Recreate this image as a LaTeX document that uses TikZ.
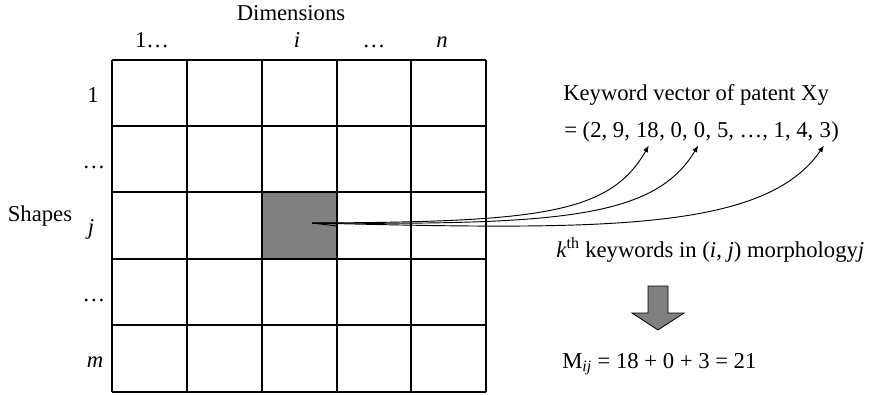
\documentclass[tikz,border=0pt]{standalone}
\usepackage{fontspec}
\setmainfont{Liberation Serif}
\usetikzlibrary{arrows.meta,positioning,calc}

\begin{document}
\begin{tikzpicture}[
  x=0.75pt,y=-0.75pt,
  font=\fontsize{17}{20}\selectfont,
  grid/.style={line width=1pt},
  lbl/.style={inner sep=0pt,anchor=base},
  txt/.style={inner sep=0pt,anchor=base west},
  hit/.style={draw,line width=0.6pt,fill=black!50},
  link/.style={-{Latex[length=5pt,width=4pt]},line width=0.7pt}]

\useasboundingbox (0,0) rectangle (870,394);

% matrix of shapes x dimensions
\node[hit,minimum width=56pt,minimum height=50pt,inner sep=0pt] (cell) at (299.5,226) {};
\foreach \x in {112,187,262,337,411,486} \draw[grid] (\x,60) -- (\x,392);
\foreach \y in {60,126,192,259,325,392} \draw[grid] (112,\y) -- (486,\y);

\node[lbl] (dim) at (291,20) {Dimensions};
\node[lbl] (c1) at (152,47) {1…};
\node[lbl] (ci) at (297,47) {\textit{i}};
\node[lbl] (cd) at (374,47) {…};
\node[lbl] (cn) at (442,47) {\textit{n}};

\node[lbl] (shp) at (40,221) {Shapes};
\node[lbl] (r1) at (93,102) {1};
\node[lbl] (r2) at (94,168) {…};
\node[lbl] (rj) at (91,234) {\textit{j}};
\node[lbl] (r4) at (94,301) {…};
\node[lbl] (rm) at (95,367) {\textit{m}};

% keyword vector, split so the arrows can reach the entries
\node[txt] (kw) at (563,100) {Keyword vector of patent Xy};
\node[txt] (v1) at (564,137) {= (2, 9,};
\node[txt] (v18) at ([xshift=4.25pt]v1.base east) {18};
\node[txt] (v2) at (v18.base east) {, 0,};
\node[txt] (v0) at ([xshift=4.25pt]v2.base east) {0};
\node[txt] (v3) at (v0.base east) {, 5, …, 1, 4,};
\node[txt] (vlast) at ([xshift=4.25pt]v3.base east) {3};
\node[txt] (vend) at (vlast.base east) {)};

\node[txt] (kth) at (556,257) {\textit{k}\textsuperscript{th} keywords in (\textit{i}, \textit{j}) morphology\textit{j}};
\node[txt] (mij) at (562,368) {M\textsubscript{\textit{ij}} = 18 + 0 + 3 = 21};

\coordinate (src) at (312,223);

\draw[line width=0.7pt] (src) -- (cell.east);
\draw[link] (src) .. controls (540,222) and (610,214) .. ([xshift=1pt,yshift=-6pt]v18.south);
\draw[link] (src) .. controls (560,225) and (655,218) .. ([xshift=-1pt,yshift=-6pt]v0.south);
\draw[link] (src) .. controls (600,230) and (765,232) .. ([xshift=-1pt,yshift=-6pt]vlast.south);

% block arrow
\draw[line width=0.6pt,fill=black!50] (648,286) -- (668,286) -- (668,313) -- (684,313)
  -- (658,330) -- (632,313) -- (648,313) -- cycle;
\end{tikzpicture}
\end{document}
